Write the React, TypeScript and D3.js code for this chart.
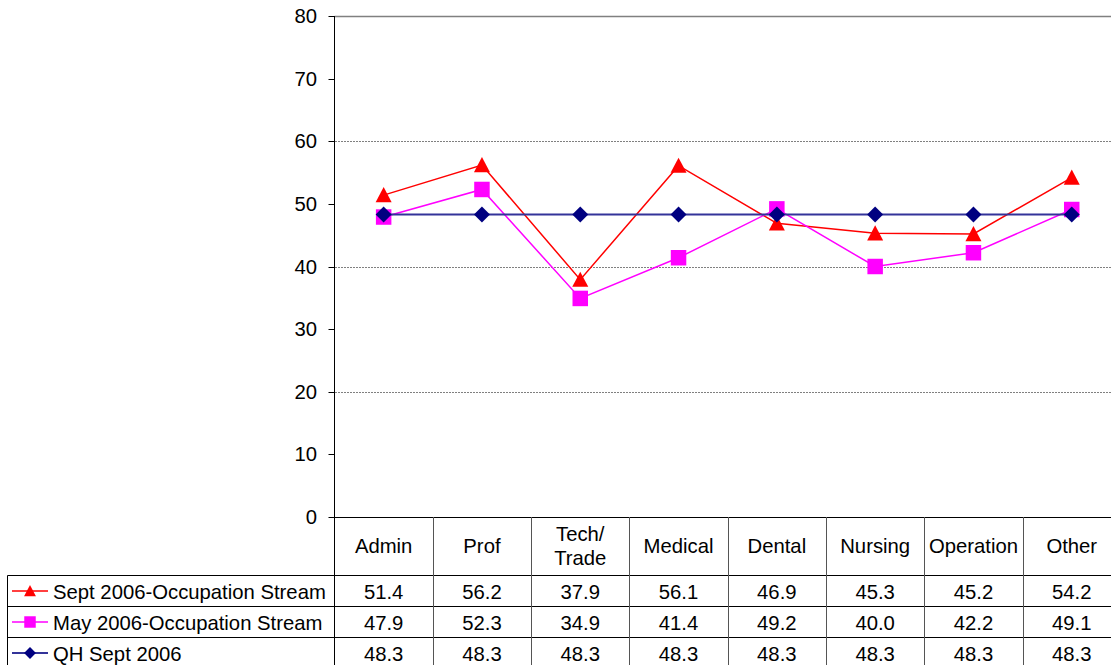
import React from 'react';
import * as d3 from 'd3';

// categories and series
const categories = ['Admin', 'Prof', 'Tech/\nTrade', 'Medical', 'Dental', 'Nursing', 'Operation', 'Other'];
const sept2006 = [51.4, 56.2, 37.9, 56.1, 46.9, 45.3, 45.2, 54.2];
const may2006 = [47.9, 52.3, 34.9, 41.4, 49.2, 40.0, 42.2, 49.1];
const qhSept = [48.3, 48.3, 48.3, 48.3, 48.3, 48.3, 48.3, 48.3];
const yTicks = [0, 10, 20, 30, 40, 50, 60, 70, 80];
const gridTicks = [20, 40, 60];

// custom marker shapes, bounding box centered on the point
const triangle = {
  draw(ctx: any, size: number) {
    const r = Math.sqrt(size) / 2;
    ctx.moveTo(0, -r);
    ctx.lineTo(r, r * 0.9);
    ctx.lineTo(-r, r * 0.9);
    ctx.closePath();
  },
};
const square = {
  draw(ctx: any, size: number) {
    const r = Math.sqrt(size) / 2;
    ctx.rect(-r, -r, 2 * r, 2 * r);
  },
};
const diamond = {
  draw(ctx: any, size: number) {
    const r = Math.sqrt(size) / 2;
    ctx.moveTo(0, -r);
    ctx.lineTo(r, 0);
    ctx.lineTo(0, r);
    ctx.lineTo(-r, 0);
    ctx.closePath();
  },
};

const series = [
  { name: 'Sept 2006-Occupation Stream', values: sept2006, line: '#FF0000', marker: '#FF0000', width: 1.5, shape: triangle, size: 256 },
  { name: 'May 2006-Occupation Stream', values: may2006, line: '#FF00FF', marker: '#FF00FF', width: 1.5, shape: square, size: 240 },
  { name: 'QH Sept 2006', values: qhSept, line: '#333399', marker: '#000080', width: 2, shape: diamond, size: 256 },
];

const W = 1111;
const H = 665;
const left = 334.5;
const colW = 98.3;
const top = 16;
const bottom = 517;
const headerBottom = 575.5;
const rowH = 31;
const labelLeft = 7.5;
const fs = 20.3;
const font = 'Arial, "Liberation Sans", sans-serif';

export default function App() {
  const x = d3.scaleBand<string>().domain(categories).range([left, left + colW * categories.length]);
  const y = d3.scaleLinear().domain([0, 80]).range([bottom, top]);
  const line = d3.line<number>()
    .x((_, i) => (x(categories[i]) as number) + x.bandwidth() / 2)
    .y((d) => y(d));
  const right = left + colW * categories.length;

  return (
    <svg width={W} height={H} style={{ position: 'absolute', left: 0, top: 0, background: '#fff' }} fontFamily={font}>
      {/* grid + plot border */}
      {gridTicks.map((t) => (
        <line key={t} x1={left + 1} x2={right} y1={Math.round(y(t)) + 0.5} y2={Math.round(y(t)) + 0.5}
          stroke="#000" strokeWidth={1} strokeDasharray="1,2" />
      ))}
      <line x1={left} x2={right} y1={top + 0.5} y2={top + 0.5} stroke="#808080" strokeWidth={1.5} />

      {/* y axis */}
      {yTicks.map((t) => (
        <g key={t}>
          <line x1={left - 6} x2={left} y1={Math.round(y(t)) + 0.5} y2={Math.round(y(t)) + 0.5} stroke="#000" />
          <text x={317} y={y(t) + 7} textAnchor="end" fontSize={fs} fill="#000">{t}</text>
        </g>
      ))}
      <line x1={left} x2={left} y1={top} y2={H} stroke="#000" />

      {/* data table */}
      <line x1={left} x2={right} y1={bottom + 0.5} y2={bottom + 0.5} stroke="#000" />
      <line x1={labelLeft} x2={right} y1={headerBottom} y2={headerBottom} stroke="#000" />
      {series.map((s, i) => (
        <line key={s.name} x1={labelLeft} x2={right} y1={headerBottom + rowH * (i + 1)} y2={headerBottom + rowH * (i + 1)} stroke="#000" />
      ))}
      <line x1={labelLeft} x2={labelLeft} y1={headerBottom} y2={H} stroke="#000" />
      {categories.slice(1).map((c) => (
        <line key={c} x1={Math.round(x(c) as number) + 0.5} x2={Math.round(x(c) as number) + 0.5} y1={bottom} y2={H} stroke="#555" />
      ))}
      {categories.map((c) => {
        const cx = (x(c) as number) + x.bandwidth() / 2;
        const parts = c.split('\n');
        const mid = (bottom + headerBottom) / 2;
        return (
          <text key={c} x={cx} textAnchor="middle" fontSize={fs} fill="#000">
            {parts.map((p, k) => (
              <tspan key={k} x={cx} y={mid + 7 + (k - (parts.length - 1) / 2) * 24}>{p}</tspan>
            ))}
          </text>
        );
      })}
      {series.map((s, i) => {
        const cy = headerBottom + rowH * i + rowH / 2;
        return (
          <g key={s.name}>
            <line x1={12} x2={48} y1={cy} y2={cy} stroke={s.line} strokeWidth={s.width} />
            <path transform={`translate(30,${cy})`} d={d3.symbol(s.shape as any, s.size * 0.55)() as string} fill={s.marker} />
            <text x={53} y={cy + 7.5} fontSize={fs} fill="#000">{s.name}</text>
            {s.values.map((v, j) => (
              <text key={j} x={(x(categories[j]) as number) + x.bandwidth() / 2} y={cy + 7.5} textAnchor="middle" fontSize={fs} fill="#000">
                {v.toFixed(1)}
              </text>
            ))}
          </g>
        );
      })}

      {/* series */}
      {series.map((s) => (
        <g key={s.name}>
          <path d={line(s.values) as string} fill="none" stroke={s.line} strokeWidth={s.width} />
          {s.values.map((v, j) => (
            <path key={j}
              transform={`translate(${(x(categories[j]) as number) + x.bandwidth() / 2},${y(v)})`}
              d={d3.symbol(s.shape as any, s.size)() as string} fill={s.marker} />
          ))}
        </g>
      ))}
    </svg>
  );
}
